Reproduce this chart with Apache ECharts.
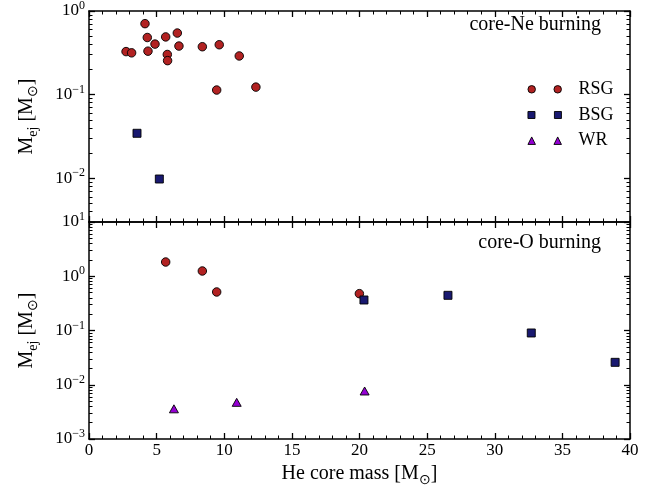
<!DOCTYPE html>
<html>
<head>
<meta charset="utf-8">
<script src="https://cdn.jsdelivr.net/npm/echarts@6/dist/echarts.min.js"></script>
<style>
  html, body { margin: 0; padding: 0; background: #fff; }
  #chart { width: 662px; height: 493px; }
</style>
</head>
<body>
<div id="chart"></div>
<script>
// Ejected mass vs. He core mass, at core-Ne and core-O burning
const rsgNeMass = [2.74, 3.15, 4.14, 4.31, 4.36, 4.88, 5.67, 5.79, 5.81, 6.53, 6.65, 8.38, 9.44, 9.63, 11.11, 12.34];
const rsgNeMej  = [0.327, 0.316, 0.706, 0.482, 0.331, 0.402, 0.49, 0.302, 0.255, 0.545, 0.381, 0.374, 0.1135, 0.395, 0.29, 0.123];
const bsgNeMass = [3.55, 5.2];
const bsgNeMej  = [0.0345, 0.0098];

const rsgOMass = [5.67, 8.38, 9.44, 19.99];
const rsgOMej  = [1.83, 1.25, 0.513, 0.478];
const bsgOMass = [20.33, 26.54, 32.7, 38.9];
const bsgOMej  = [0.365, 0.445, 0.09, 0.0259];
const wrOMass  = [6.28, 10.92, 20.38];
const wrOMej   = [0.0036, 0.00474, 0.00767];

// axis ranges (M_ej) and labelled decades
const neRange = [0.003, 1];
const oRange  = [0.001, 10];
const neDecades = [-2, -1, 0];
const oDecades  = [-3, -2, -1, 0, 1];

const FONT = 'Liberation Serif';
const RSG_COLOR = '#b22222';
const BSG_COLOR = '#191970';
const WR_COLOR  = '#9400d3';

const lg = v => Math.log10(v);
const pairs = (xs, ys) => xs.map((x, i) => [x, lg(ys[i])]);

function minorValues(lo, hi) {
  const out = [];
  for (let n = Math.floor(lo); n < Math.ceil(hi); n++) {
    for (let k = 2; k <= 9; k++) {
      const v = n + Math.log10(k);
      if (v >= lo && v <= hi) out.push(v);
    }
  }
  return out;
}

function powLabel(v) {
  const n = Math.round(v);
  return '{b|10}{s|' + (n < 0 ? '\u2212' + (-n) : n) + '}';
}

const labelRich = {
  b: { fontFamily: FONT, fontSize: 17, lineHeight: 22, color: '#000' },
  s: { fontFamily: FONT, fontSize: 12, lineHeight: 12, verticalAlign: 'top', color: '#000' }
};
const nameRich = {
  m: { fontFamily: FONT, fontSize: 20, lineHeight: 26, color: '#000' },
  sub: { fontFamily: FONT, fontSize: 14, lineHeight: 14, verticalAlign: 'bottom', color: '#000' }
};

const axisLine = { show: true, onZero: false, lineStyle: { color: '#000', width: 1.5 } };

function yAxesFor(g, range, decades) {
  const lo = lg(range[0]), hi = lg(range[1]);
  const base = { type: 'value', gridIndex: g, min: lo, max: hi, splitLine: { show: false }, axisLine: axisLine };
  const major = { show: true, inside: true, length: 6, customValues: decades, lineStyle: { color: '#000', width: 1.3 } };
  const minor = { show: true, inside: true, length: 3.5, customValues: minorValues(lo, hi), lineStyle: { color: '#000', width: 1 } };
  return [
    Object.assign({}, base, {
      position: 'left', axisTick: major,
      axisLabel: { show: true, customValues: decades, formatter: powLabel, rich: labelRich, margin: 4 },
      name: '{m|M}{sub|ej}{m| [M}{sub|\u2299}{m|]}',
      nameLocation: 'middle', nameGap: 49, nameRotate: 90,
      nameTextStyle: { rich: nameRich }
    }),
    Object.assign({}, base, { position: 'left', axisTick: minor, axisLabel: { show: false }, axisLine: { show: false, onZero: false } }),
    Object.assign({}, base, { position: 'right', axisTick: major, axisLabel: { show: false } }),
    Object.assign({}, base, { position: 'right', axisTick: minor, axisLabel: { show: false }, axisLine: { show: false, onZero: false } })
  ];
}

function xAxesFor(g, withLabels) {
  const base = {
    type: 'value', gridIndex: g, min: 0, max: 40, interval: 5,
    splitLine: { show: false }, axisLine: axisLine,
    axisTick: { show: true, inside: true, length: 6, lineStyle: { color: '#000', width: 1.3 } },
    minorTick: { show: true, splitNumber: 5, length: 3.5, lineStyle: { color: '#000', width: 1 } }
  };
  const bottom = Object.assign({}, base, {
    position: 'bottom',
    axisLabel: { show: withLabels, fontFamily: FONT, fontSize: 17, color: '#000', margin: 3 }
  });
  if (withLabels) {
    Object.assign(bottom, {
      name: '{m|He core mass [M}{sub|\u2299}{m|]}',
      nameLocation: 'middle', nameGap: 22,
      nameTextStyle: { rich: nameRich }
    });
  }
  return [bottom, Object.assign({}, base, { position: 'top', axisLabel: { show: false } })];
}

const circles = 'path://M0,3.75A3.75,3.75 0 1,0 7.5,3.75A3.75,3.75 0 1,0 0,3.75Z' +
                'M26,3.75A3.75,3.75 0 1,0 33.5,3.75A3.75,3.75 0 1,0 26,3.75Z';
const squares = 'path://M0.3,0.3H7.2V7.2H0.3ZM26.3,0.3H33.2V7.2H26.3Z';
const triangles = 'path://M3.75,0L7.5,7.5H0ZM29.75,0L33.5,7.5H26Z';

function scatter(name, xi, yi, data, symbol, size, color) {
  return {
    type: 'scatter', name: name, xAxisIndex: xi, yAxisIndex: yi, data: data,
    symbol: symbol, symbolSize: size,
    itemStyle: { color: color, borderColor: '#000', borderWidth: 0.9, opacity: 1 },
    emphasis: { disabled: true }
  };
}

const chart = echarts.init(document.getElementById('chart'), null, { renderer: 'canvas' });
chart.setOption({
  animation: false,
  backgroundColor: '#fff',
  grid: [
    { left: 89, right: 32, top: 6, height: 216, show: false },
    { left: 89, right: 32, top: 222, height: 217, show: false }
  ],
  xAxis: xAxesFor(0, false).concat(xAxesFor(1, true)),
  yAxis: yAxesFor(0, neRange, neDecades).concat(yAxesFor(1, oRange, oDecades)),
  legend: {
    orient: 'vertical', left: 527.5, top: 79.3, padding: 0, itemGap: 5.7,
    itemWidth: 33.5, itemHeight: 7.5,
    textStyle: { fontFamily: FONT, fontSize: 18, color: '#000', lineHeight: 20, padding: [0, 0, 0, 12] },
    itemStyle: { borderColor: '#000', borderWidth: 0.9 },
    selectedMode: false,
    data: [
      { name: 'RSG', icon: circles },
      { name: 'BSG', icon: squares },
      { name: 'WR', icon: triangles }
    ]
  },
  graphic: [
    { type: 'text', x: 601, y: 25, style: { text: 'core-Ne burning', font: '20px "Liberation Serif"', fill: '#000', align: 'right', verticalAlign: 'middle' } },
    { type: 'text', x: 601, y: 243, style: { text: 'core-O burning', font: '20px "Liberation Serif"', fill: '#000', align: 'right', verticalAlign: 'middle' } }
  ],
  series: [
    scatter('RSG', 0, 0, pairs(rsgNeMass, rsgNeMej), 'circle', 8.5, RSG_COLOR),
    scatter('BSG', 0, 0, pairs(bsgNeMass, bsgNeMej), 'rect', 8, BSG_COLOR),
    scatter('WR', 0, 0, [], 'triangle', [9, 8], WR_COLOR),
    scatter('RSG', 2, 4, pairs(rsgOMass, rsgOMej), 'circle', 8.5, RSG_COLOR),
    scatter('BSG', 2, 4, pairs(bsgOMass, bsgOMej), 'rect', 8, BSG_COLOR),
    scatter('WR', 2, 4, pairs(wrOMass, wrOMej), 'triangle', [9, 8], WR_COLOR)
  ]
});
</script>
</body>
</html>
